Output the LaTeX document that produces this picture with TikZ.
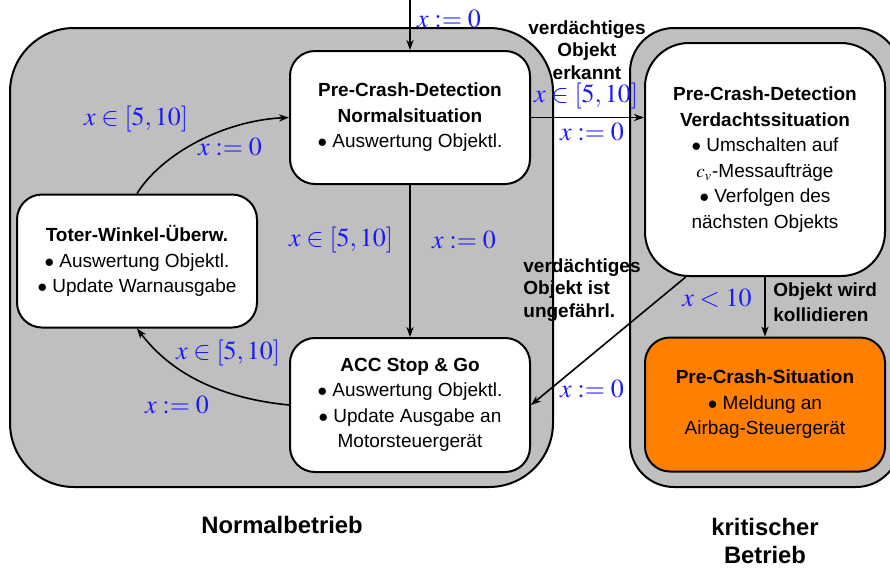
\documentclass[tikz,border=0pt]{standalone}
\usepackage{mathptmx}
\usepackage[no-math]{fontspec}
\setmainfont{Liberation Sans}
\usetikzlibrary{arrows.meta}
\definecolor{crashorange}{RGB}{255,128,0}
\definecolor{guardblue}{RGB}{25,25,255}
\begin{document}
\begin{tikzpicture}[x=0.5pt,y=-0.5pt,
  state/.style={draw, line width=1pt, rounded corners=12.5pt, fill=white,
    align=center, minimum width=120pt, minimum height=66.5pt, inner sep=2pt,
    font=\fontsize{9.5}{12.75}\selectfont},
  region/.style={draw, line width=1pt, fill=gray!50},
  trans/.style={line width=0.8pt, -{Stealth[length=5pt,width=3.6pt,inset=1.5pt]}},
  guard/.style={text=guardblue, font=\fontsize{13}{15}\selectfont, inner sep=0pt},
  event/.style={font=\fontsize{9.5}{11.25}\selectfont\bfseries, inner sep=0pt, align=center},
  mode/.style={font=\fontsize{11.9}{14}\selectfont\bfseries, align=center, inner sep=0pt}]
\useasboundingbox (0,0) rectangle (890,569);

% operating modes
\draw[region, rounded corners=32pt] (10,28) rectangle (553,487);
\draw[region, rounded corners=22pt] (630,28) rectangle (900,487);

% states
\node[state] (n) at (410,117.5)
  {\textbf{Pre-Crash-Detection}\\\textbf{Normalsituation}\\$\bullet$ Auswertung Objektl.};
\node[state] (t) at (137,261)
  {\textbf{Toter-Winkel-Überw.}\\$\bullet$ Auswertung Objektl.\\$\bullet$ Update Warnausgabe};
\node[state, minimum height=67pt] (a) at (410,405)
  {\textbf{ACC Stop \& Go}\\$\bullet$ Auswertung Objektl.\\$\bullet$ Update Ausgabe an\\Motorsteuergerät};
\node[state, minimum height=116.5pt, rounded corners=22pt] (v) at (765,159.5)
  {\textbf{Pre-Crash-Detection}\\\textbf{Verdachtssituation}\\$\bullet$ Umschalten auf\\$c_v$-Messaufträge\\$\bullet$ Verfolgen des\\nächsten Objekts};
\node[state, fill=crashorange, minimum height=67pt] (p) at (765,404.5)
  {\textbf{Pre-Crash-Situation}\\$\bullet$ Meldung an\\Airbag-Steuergerät};

% transitions
\coordinate (init) at (410,0);
\draw[trans] (init) -- (n.north);
\draw[trans] (n.south) -- (a.north);
\draw[trans] (n.east) -- (n.east -| v.west);
\draw[trans] (v.236.8) -- (a.east);
\draw[trans] (v.south) -- (p.north);
\draw[trans] (a.west) .. controls +(-80,-8) and +(29,38) .. (t.south);
\draw[trans] (t.north) .. controls +(25,-40) and +(-65,3) .. (n.west);

% guards and resets
\node[guard] (g0) at (449,19) {$x:=0$};
\node[guard] (g1) at (341,240) {$x\in[5,10]$};
\node[guard] (g2) at (464,240) {$x:=0$};
\node[guard] (g3) at (586,96) {$x\in[5,10]$};
\node[guard] (g4) at (592,132) {$x:=0$};
\node[guard] (g5) at (592,389) {$x:=0$};
\node[guard] (g6) at (717,298) {$x<10$};
\node[guard] (g7) at (228,353) {$x\in[5,10]$};
\node[guard] (g8) at (177,405) {$x:=0$};
\node[guard] (g9) at (136,119) {$x\in[5,10]$};
\node[guard] (g10) at (230,147) {$x:=0$};

% events
\node[event] (e1) at (587,50) {verdächtiges\\Objekt\\erkannt};
\node[event, align=left, anchor=west] (e2) at (523,290) {verdächtiges\\Objekt ist\\ungefährl.};
\node[event, align=left, anchor=west, font=\fontsize{9.5}{12.5}\selectfont\bfseries] (e3) at (773,302.5) {Objekt wird\\kollidieren};

% mode names
\node[mode] (m1) at (282,525) {Normalbetrieb};
\node[mode] (m2) at (765,541) {kritischer\\Betrieb};
\end{tikzpicture}
\end{document}
